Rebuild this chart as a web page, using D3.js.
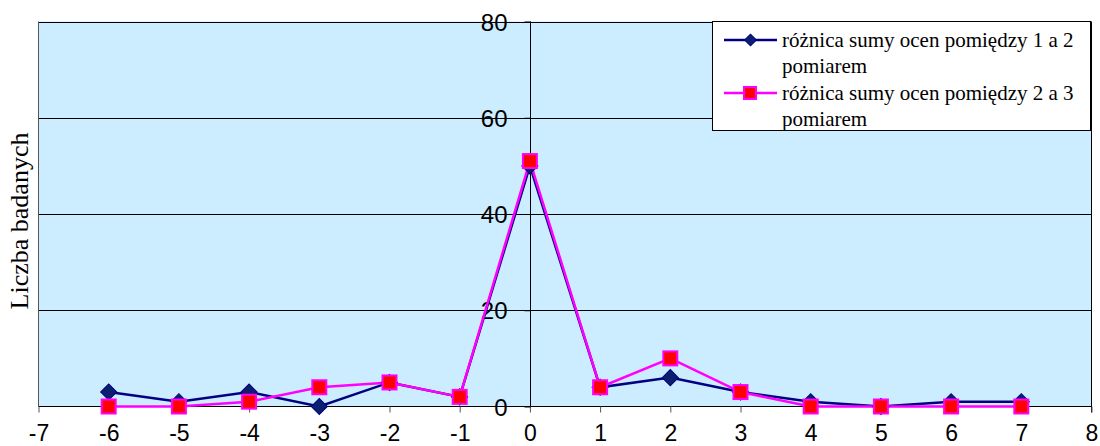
<!DOCTYPE html>
<html><head><meta charset="utf-8">
<script src="https://cdn.jsdelivr.net/npm/d3@7"></script>
<style>body{margin:0;background:#fff}</style>
</head><body>
<svg id="c" width="1100" height="446"></svg>
<script>
const xValues = [-6,-5,-4,-3,-2,-1,0,1,2,3,4,5,6,7];
const series1 = [3,1,3,0,5,2,50,4,6,3,1,0,1,1];
const series2 = [0,0,1,4,5,2,51,4,10,3,0,0,0,0];
const seriesNames = ["różnica sumy ocen pomiędzy 1 a 2 pomiarem","różnica sumy ocen pomiędzy 2 a 3 pomiarem"];
const legendLines = [["różnica sumy ocen pomiędzy 1 a 2","pomiarem"],["różnica sumy ocen pomiędzy 2 a 3","pomiarem"]];
const xTicks = [-7,-6,-5,-4,-3,-2,-1,0,1,2,3,4,5,6,7,8];
const yTicks = [0,20,40,60,80];
const yTitle = "Liczba badanych";

const svg = d3.select("#c");
const L=38.5, R=1091.5, T=21.5, B=406.5;
const x = d3.scaleLinear().domain([-7,8]).range([L,R]);
const y = d3.scaleLinear().domain([0,80]).range([B,T]);

svg.append("rect").attr("x",L).attr("y",T).attr("width",R-L).attr("height",B-T)
  .attr("fill","#CCECFF").attr("stroke","none");
svg.append("g").selectAll("line").data(yTicks.filter(d=>d>0)).join("line")
  .attr("x1",L).attr("x2",R).attr("y1",d=>Math.round(y(d))+0.5).attr("y2",d=>Math.round(y(d))+0.5)
  .attr("stroke","#000").attr("stroke-width",1);
svg.append("line").attr("x1",L).attr("x2",L).attr("y1",T).attr("y2",B).attr("stroke","#555");
svg.append("line").attr("x1",R).attr("x2",R).attr("y1",T).attr("y2",B+6).attr("stroke","#000");

const xAxis = d3.axisBottom(x).tickValues(xTicks).tickSize(6).tickFormat(d3.format("d"));
const gx = svg.append("g").attr("transform",`translate(0,${B})`).call(xAxis);
gx.select(".domain").attr("stroke","#000").attr("d",`M${L},0H${R}`);
gx.selectAll(".tick line").attr("stroke","#555");
gx.selectAll("text").attr("font-family","Liberation Sans, Arial, sans-serif").attr("font-size","23px").attr("fill","#000")
  .attr("y",34.5).attr("dy",0)
  .text(d=>d<0?"-"+Math.abs(d):d);

const yAxis = d3.axisLeft(y).tickValues(yTicks).tickSize(6);
const gy = svg.append("g").attr("transform",`translate(${Math.round(x(0))+0.5},0)`).call(yAxis);
gy.select(".domain").attr("stroke","#000").attr("d",`M0,${T}V${B}`);
gy.selectAll(".tick line").attr("stroke","#000");
gy.selectAll("text").attr("font-family","Liberation Sans, Arial, sans-serif").attr("font-size","24px").attr("fill","#000")
  .attr("x",-23).attr("dy","0.36em");

svg.append("text").attr("transform",`translate(28,221) rotate(-90)`)
  .attr("text-anchor","middle").attr("font-family","Liberation Serif, Times New Roman, serif")
  .attr("font-size","26px").attr("fill","#000").text(yTitle);

const line = d3.line().x((d,i)=>x(xValues[i])).y(d=>y(d));
svg.append("path").datum(series1).attr("d",line).attr("fill","none").attr("stroke","#000080").attr("stroke-width",2.5);
svg.append("path").datum(series2).attr("d",line).attr("fill","none").attr("stroke","#FF00FF").attr("stroke-width",2.5);

const diamond = d3.symbol().type(d3.symbolSquare).size(130);
svg.append("g").selectAll("path").data(series1).join("path")
  .attr("d",diamond()).attr("transform",(d,i)=>`translate(${x(xValues[i])},${y(d)}) rotate(45)`)
  .attr("fill","#0B1F6E").attr("stroke","#000080").attr("stroke-width",1);
svg.append("g").selectAll("rect").data(series2).join("rect")
  .attr("x",(d,i)=>x(xValues[i])-7).attr("y",d=>y(d)-7).attr("width",14).attr("height",14)
  .attr("fill","#FF0000").attr("stroke","#FF00FF").attr("stroke-width",2);

const lg = svg.append("g");
lg.append("rect").attr("x",712.5).attr("y",21.5).attr("width",378).attr("height",109)
  .attr("fill","#fff").attr("stroke","#000").attr("stroke-width",1);
const lgY = [40,93];
const colors = ["#000080","#FF00FF"];
lgY.forEach((yy,i)=>{
  lg.append("line").attr("x1",724).attr("x2",777).attr("y1",yy).attr("y2",yy).attr("stroke",colors[i]).attr("stroke-width",2.5);
  if(i===0){
    lg.append("path").attr("d",d3.symbol().type(d3.symbolSquare).size(70)()).attr("transform",`translate(750.5,${yy}) rotate(45)`)
      .attr("fill","#0B1F6E").attr("stroke","#000080");
  } else {
    lg.append("rect").attr("x",744).attr("y",yy-6).attr("width",12).attr("height",12)
      .attr("fill","#FF0000").attr("stroke","#FF00FF").attr("stroke-width",2);
  }
  legendLines[i].forEach((t,j)=>{
    lg.append("text").attr("x",782).attr("y",yy+7+j*26).attr("font-family","Liberation Serif, Times New Roman, serif")
      .attr("font-size","21px").attr("fill","#000").text(t);
  });
});
</script>
</body></html>
